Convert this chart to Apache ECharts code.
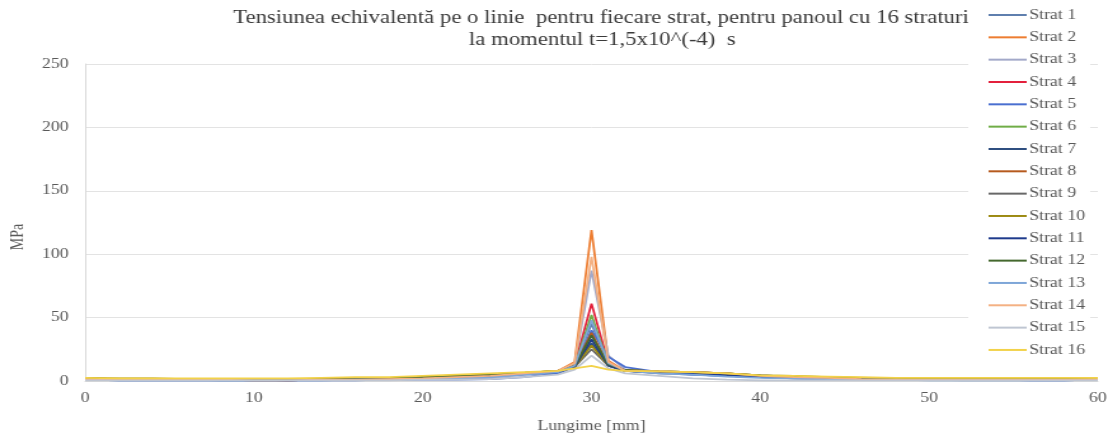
<!DOCTYPE html>
<html>
<head>
<meta charset="utf-8">
<script src="https://cdn.jsdelivr.net/npm/echarts@6/dist/echarts.min.js"></script>
<style>
  html, body { margin: 0; padding: 0; background: #fff; overflow: hidden; }
  /* the chart is laid out narrower, then widened to the page width */
  #chart { width: 872px; height: 435px; transform: scale(1.27064, 1); transform-origin: 0 0; }
</style>
</head>
<body>
<div id="chart"></div>
<script>
// Position along the line [mm]
const lungime = [0, 2, 4, 6, 8, 10, 12, 14, 16, 18, 20, 22, 24, 26, 28, 29, 30, 31, 32, 34, 36, 38, 40, 42, 44, 46, 48, 50, 52, 54, 56, 58, 60];

// Equivalent stress [MPa] for each layer
const strat1  = [2, 1, 1, 1, 0.5, 0.5, 0.5, 1, 1, 1.5, 1.5, 2, 3, 5, 7, 12, 45, 14, 8, 6, 5, 4, 3, 2, 1.5, 1, 1, 1, 1, 1, 1, 1, 1.5];
const strat2  = [1.5, 1, 1, 1, 1, 0.5, 0.5, 1, 1, 1.5, 2, 3, 4, 6, 8, 15, 119, 16, 8, 7, 7, 6, 4, 3, 2.5, 1.5, 1, 1, 1, 1, 1, 1, 1.5];
const strat3  = [1, 0.5, 0.5, 0.5, 0.5, 0.5, 0.5, 0.5, 1, 1, 1.5, 2, 3, 5, 7, 13, 87, 20, 9, 6, 5, 4, 3, 2, 1.5, 1, 1, 1, 0.5, 0.5, 0.5, 0.5, 1];
const strat4  = [1.5, 1, 1, 1, 1, 1, 0.5, 1, 1, 1.5, 2, 2.5, 4, 5.5, 7.5, 12, 61, 14, 8, 7, 6, 5, 3.5, 3, 2, 1.5, 1, 1, 1, 1, 1, 1, 1.5];
const strat5  = [1, 0.5, 0.5, 0.5, 0.5, 0.5, 0.5, 0.5, 0.5, 1, 1, 1, 1.5, 3, 6, 11, 40, 19, 11, 7, 5, 4, 3, 2, 1.5, 1, 1, 1, 1, 1, 0.5, 0.5, 1];
const strat6  = [2, 1.5, 1.5, 1, 1, 1, 1, 1, 1.5, 2, 2.5, 3.5, 5, 6.5, 7.5, 12, 52, 13, 8, 7, 6.5, 5.5, 4, 3, 2.5, 2, 1.5, 1.5, 1.5, 1, 1, 1, 1.5];
const strat7  = [1.5, 1, 1, 1, 1, 0.5, 0.5, 1, 1, 1.5, 2, 2.5, 4, 5.5, 7, 11, 30, 12, 8, 6.5, 6, 5, 3.5, 3, 2, 1.5, 1, 1, 1, 1, 1, 1, 1.5];
const strat8  = [2, 1.5, 1.5, 1, 1, 1, 1, 1, 1.5, 2, 2.5, 3.5, 5, 6.5, 8, 12, 38, 13, 8.5, 7.5, 7, 6, 4.5, 3.5, 2.5, 2, 1.5, 1.5, 1.5, 1, 1, 1, 1.5];
const strat9  = [2, 1.5, 1, 1, 1, 1, 0.5, 1, 1.5, 2, 2.5, 3.5, 5, 6, 7.5, 11, 25, 12, 8, 7, 6.5, 5.5, 4, 3, 2.5, 2, 1.5, 1.5, 1, 1, 1, 1, 1.5];
const strat10 = [2.5, 2, 2, 1.5, 1.5, 1.5, 1, 1.5, 2, 2.5, 3.5, 4.5, 5.5, 6.5, 8, 11, 28, 12, 8.5, 7.5, 7, 6, 4.5, 4, 3, 2.5, 2, 2, 2, 2, 2, 2, 2.5];
const strat11 = [1.5, 1, 1, 1, 1, 1, 0.5, 1, 1, 1.5, 2, 3, 4.5, 6, 7.5, 11, 33, 12, 8, 7, 6, 5, 3.5, 3, 2, 1.5, 1, 1, 1, 1, 1, 1, 1.5];
const strat12 = [2, 1.5, 1.5, 1, 1, 1, 1, 1, 1.5, 2, 3, 4, 5, 6.5, 8, 12, 36, 13, 8.5, 7.5, 7, 6, 4.5, 3.5, 2.5, 2, 1.5, 1.5, 1.5, 1.5, 1.5, 1.5, 2];
const strat13 = [1, 0.5, 0.5, 0.5, 0.5, 0.5, 0.5, 0.5, 1, 1, 1.5, 2, 3, 5, 7, 12, 48, 14, 8, 6, 5, 3.5, 2.5, 2, 1.5, 1, 1, 0.5, 0.5, 0.5, 0.5, 0.5, 1];
const strat14 = [1.5, 1, 1, 1, 1, 0.5, 0.5, 1, 1, 1.5, 2, 3, 4, 6, 8, 14, 98, 15, 8, 7.5, 7, 6, 4, 3, 2.5, 1.5, 1, 1, 1, 1, 1, 1, 1.5];
const strat15 = [0.5, 0.5, 0.5, 0.5, 0.5, 0.5, 0.5, 0.5, 0.5, 0.5, 1, 1, 1.5, 3, 5, 9, 20, 10, 6, 4, 2, 1, 0.5, 0.5, 0.5, 0.5, 0.5, 0.5, 0.5, 0.5, 0.5, 0.5, 0.5];
const strat16 = [2.5, 2, 2, 2, 2, 2, 2, 2.5, 3, 3, 4, 5, 6, 7, 8, 10, 12, 9, 8, 7.5, 7, 6, 4.5, 4, 3.5, 3, 2.5, 2.5, 2.5, 2.5, 2.5, 2.5, 2.5];

const seriesNames = ['Strat 1', 'Strat 2', 'Strat 3', 'Strat 4', 'Strat 5', 'Strat 6', 'Strat 7', 'Strat 8',
                     'Strat 9', 'Strat 10', 'Strat 11', 'Strat 12', 'Strat 13', 'Strat 14', 'Strat 15', 'Strat 16'];
const seriesValues = [strat1, strat2, strat3, strat4, strat5, strat6, strat7, strat8,
                      strat9, strat10, strat11, strat12, strat13, strat14, strat15, strat16];

const xTicks = [0, 10, 20, 30, 40, 50, 60];
const yTicks = [0, 50, 100, 150, 200, 250];

const titleLine1 = 'Tensiunea echivalentă pe o linie  pentru fiecare strat, pentru panoul cu 16 straturi';
const titleLine2 = 'la momentul t=1,5x10^(-4)  s';

const colors = ['#5f7fae', '#ed7d31', '#a3a9c9', '#e3203c', '#4a6fd0', '#70ad47', '#2f4f80', '#b65a1e',
                '#686868', '#9c8a12', '#1e3a8c', '#44682e', '#7ea6d8', '#f4b183', '#bfc6d2', '#f2d24a'];

const FONT = '"Liberation Serif", "Times New Roman", serif';
const TEXT_COLOR = '#595959';
const TITLE_COLOR = '#3a3a3a';

const chart = echarts.init(document.getElementById('chart'), null, { renderer: 'canvas' });

chart.setOption({
  animation: false,
  backgroundColor: '#fff',
  color: colors,
  textStyle: { fontFamily: FONT },
  graphic: [
    { type: 'text', x: 473, y: 18, style: { text: titleLine1, font: '17.9px ' + FONT, fill: TITLE_COLOR, textAlign: 'center', textVerticalAlign: 'middle' } },
    { type: 'text', x: 474, y: 40, style: { text: titleLine2, font: '17.9px ' + FONT, fill: TITLE_COLOR, textAlign: 'center', textVerticalAlign: 'middle' } },
    { type: 'text', x: 14, y: 237, rotation: Math.PI / 2, style: { text: 'MPa', font: '14px ' + FONT, fill: TEXT_COLOR, textAlign: 'center', textVerticalAlign: 'middle' } }
  ],
  legend: {
    orient: 'vertical',
    left: 762,
    top: 6,
    padding: [2, 4, 2, 16],
    backgroundColor: '#fff',
    itemWidth: 30,
    itemHeight: 14,
    itemGap: 8.33,
    icon: 'path://M0,6 L30,6 L30,8 L0,8 Z',
    textStyle: { fontFamily: FONT, fontSize: 14, color: TEXT_COLOR, lineHeight: 14, padding: [0, 0, 0, -3] },
    data: seriesNames
  },
  grid: { left: 67, right: 8, top: 64, bottom: 54, containLabel: false, outerBoundsMode: 'none' },
  xAxis: {
    type: 'value',
    min: xTicks[0],
    max: xTicks[xTicks.length - 1],
    interval: 10,
    name: 'Lungime [mm]',
    nameLocation: 'middle',
    nameGap: 38,
    nameTextStyle: { fontFamily: FONT, fontSize: 14, color: TEXT_COLOR },
    axisLine: { show: true, lineStyle: { color: '#d9d9d9', width: 1 } },
    axisTick: { show: false },
    axisLabel: { fontFamily: FONT, fontSize: 14, color: TEXT_COLOR, margin: 10 },
    splitLine: { show: false }
  },
  yAxis: {
    type: 'value',
    min: yTicks[0],
    max: yTicks[yTicks.length - 1],
    interval: 50,
    axisLine: { show: true, lineStyle: { color: '#d9d9d9', width: 1 } },
    axisTick: { show: false },
    axisLabel: { fontFamily: FONT, fontSize: 14, color: TEXT_COLOR, margin: 13 },
    splitLine: { show: true, lineStyle: { color: '#e3e3e3', width: 1 } }
  },
  series: seriesNames.map((name, i) => ({
    name: name,
    type: 'line',
    symbol: 'none',
    lineStyle: { width: 1.75 },
    data: lungime.map((x, j) => [x, seriesValues[i][j]])
  }))
});
</script>
</body>
</html>
